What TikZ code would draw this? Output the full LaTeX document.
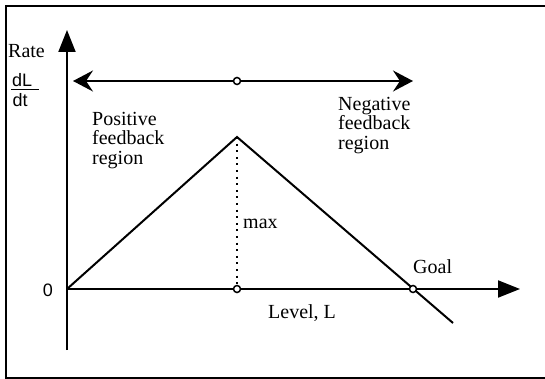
\documentclass[tikz,border=0pt]{standalone}
\usepackage{fontspec}
\setmainfont{Liberation Serif}
\setsansfont{Liberation Sans}
\usetikzlibrary{arrows.meta}

\begin{document}
\begin{tikzpicture}[x=1pt, y=-1pt,
  axis/.style={line width=2pt, -{Triangle[length=22pt, width=17pt]}},
  span/.style={line width=2pt, -{Stealth[length=20pt, width=21pt, inset=7pt]}},
  curve/.style={line width=2pt, line join=miter},
  guide/.style={line width=1.6pt, dash pattern=on 2pt off 4.6pt},
  ring/.style={circle, draw, line width=1.5pt, fill=white, inner sep=0pt, minimum size=7pt},
  lbl/.style={font=\fontsize{20}{19.5}\selectfont, inner sep=0pt},
  sans/.style={font=\sffamily\fontsize{18}{20}\selectfont, inner sep=0pt}]

  \useasboundingbox (0,0) rectangle (545,379);
  \draw[line width=2pt] (545,6) -- (6,6) -- (6,377.5) -- (545,377.5); %% frame

  \coordinate (origin) at (67,289);
  \coordinate (ybot) at (67,350);
  \coordinate (ytip) at (67,30);
  \coordinate (xtip) at (520,289);
  \coordinate (peak) at (237,137);
  \coordinate (foot) at (237,289);
  \coordinate (cross) at (413,289);
  \coordinate (tail) at (453,323);
  \coordinate (center) at (237,81);
  \coordinate (ltip) at (73,81);
  \coordinate (rtip) at (413,81);

  \draw[axis] (ybot) -- (ytip); %% rate axis
  \draw[axis] (origin) -- (xtip); %% level axis

  \draw[curve] (origin) -- (peak) -- (tail);
  \draw[guide] (peak) -- (foot);

  \draw[span] (center) -- (ltip);
  \draw[span] (center) -- (rtip);

  \node[ring] (mid) at (center) {};
  \node[ring] (top) at (foot) {};
  \node[ring] (goal) at (cross) {};

  \node[lbl, anchor=base west] (rate) at (8,58) {Rate};
  \node[sans, anchor=base west] (dl) at (12,87) {dL};
  \node[sans, anchor=base west] (dt) at (12.5,107) {dt};
  \draw[line width=1.3pt] (11,89.5) -- (39,89.5); % fraction bar
  \node[sans, anchor=base east] (zero) at (53,296) {0};

  \node[lbl, anchor=north west, align=left] (pos) at (92,112) {Positive\\feedback\\region};
  \node[lbl, anchor=north west, align=left] (neg) at (338,97) {Negative\\feedback\\region};
  \node[lbl, anchor=base west] (max) at (243,228) {max};
  \node[lbl, anchor=base west] (level) at (268,318) {Level, L};
  \node[lbl, anchor=base west] (goaltext) at (413,273) {Goal};

\end{tikzpicture}
\end{document}
